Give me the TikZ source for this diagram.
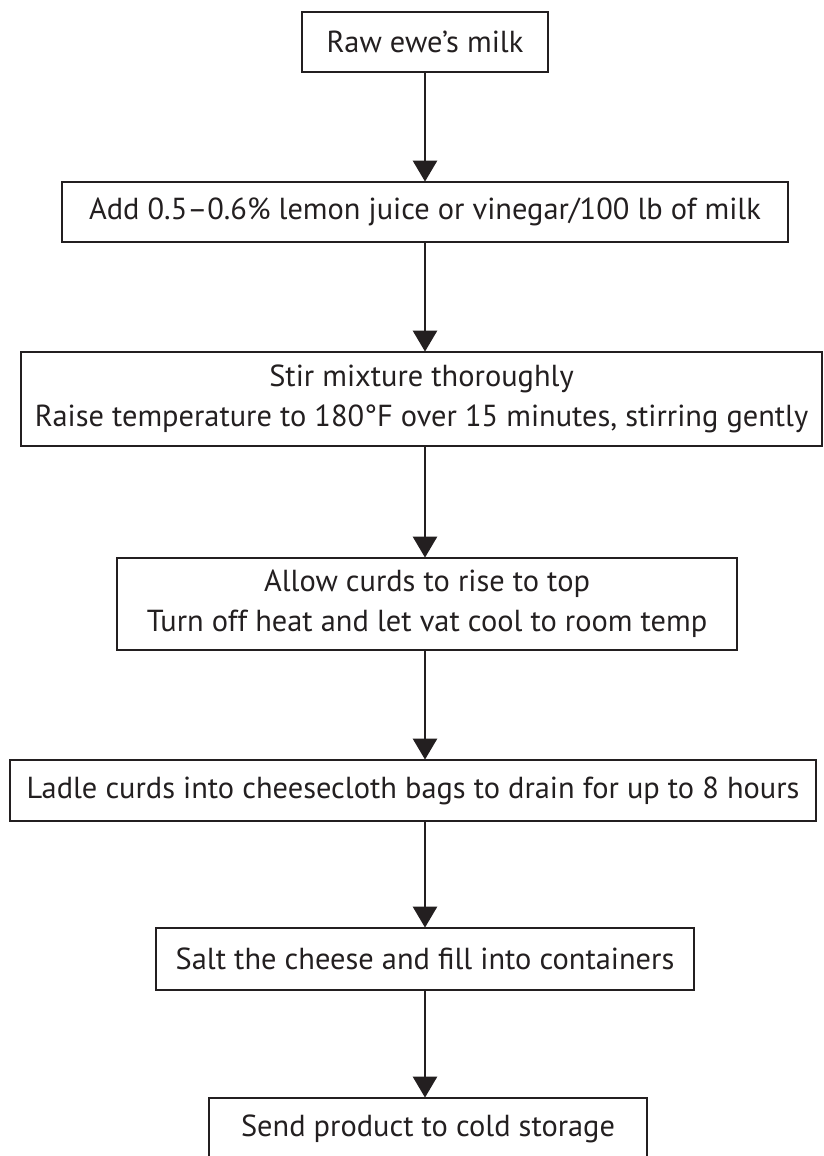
\documentclass[tikz,border=0pt]{standalone}
\usepackage{fontspec}
\setmainfont{PT Sans}
\usetikzlibrary{arrows.meta}
\definecolor{ink}{HTML}{231F20}
\tikzset{
  px/.style={x=1pt,y=-1pt},
  stepbox/.style={draw=ink, line width=2.8pt, text=ink, inner sep=0pt, align=center,
     font=\fontsize{30.4}{40}\selectfont},
  flow/.style={draw=ink, line width=2.8pt, -{Triangle[width=24pt,length=21pt]}, shorten >=-1pt}
}
\begin{document}
\begin{tikzpicture}[px]
\path[use as bounding box, clip] (0,0) rectangle (824,1156);
\node[stepbox, minimum width=246pt, minimum height=60pt] (b1) at (425,42) {Raw ewe’s milk};
\node[stepbox, minimum width=726pt, minimum height=60pt] (b2) at (425,212) {Add 0.5–0.6\% lemon juice or vinegar/100 lb of milk};
\node[stepbox, minimum width=801pt, minimum height=94pt] (b3) at (421.5,399) {Stir mixture thoroughly\\Raise temperature to 180°F over 15 minutes, stirring gently};
\node[stepbox, minimum width=620pt, minimum height=92pt] (b4) at (427,604) {Allow curds to rise to top\\Turn off heat and let vat cool to room temp};
\node[stepbox, minimum width=806pt, minimum height=61pt] (b5) at (413,790.5) {Ladle curds into cheesecloth bags to drain for up to 8 hours};
\node[stepbox, minimum width=538pt, minimum height=62pt] (b6) at (425,959) {Salt the cheese and fill into containers};
\node[stepbox, minimum width=438pt, minimum height=62pt] (b7) at (428,1129) {Send product to cold storage};
\coordinate (ax) at (425,0);
\draw[flow] (b1.south -| ax) -- (b2.north -| ax);
\draw[flow] (b2.south -| ax) -- (b3.north -| ax);
\draw[flow] (b3.south -| ax) -- (b4.north -| ax);
\draw[flow] (b4.south -| ax) -- (b5.north -| ax);
\draw[flow] (b5.south -| ax) -- (b6.north -| ax);
\draw[flow] (b6.south -| ax) -- (b7.north -| ax);
\end{tikzpicture}
\end{document}
